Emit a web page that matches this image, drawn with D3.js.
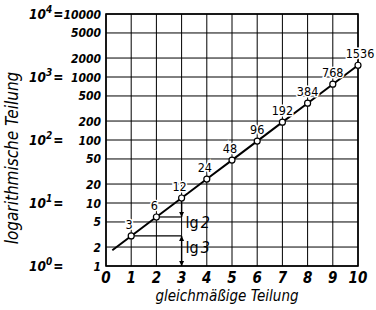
<!DOCTYPE html>
<html lang="de">
<head>
<meta charset="utf-8">
<title>logarithmische Teilung</title>
<script src="https://d3js.org/d3.v7.min.js"></script>
<style>
  body { margin: 0; background: #fff; }
  svg { display: block; }
  text { font-family: "DejaVu Sans Condensed", "DejaVu Sans", sans-serif; fill: #000; }
</style>
</head>
<body>
<script>
// gleichmäßige Teilung (x) und Werte der Punkte (y = 3, 6, 12, ...)
const pointX = [1, 2, 3, 4, 5, 6, 7, 8, 9, 10];
const pointY = [3, 6, 12, 24, 48, 96, 192, 384, 768, 1536];
// Anfang der Geraden links unten
const startX = 0.25;
const startY = 1.78;

const xTicks = [0, 1, 2, 3, 4, 5, 6, 7, 8, 9, 10];
const yTicks = [1, 2, 5, 10, 20, 50, 100, 200, 500, 1000, 2000, 5000, 10000];
const powers = [0, 1, 2, 3, 4];

const w = 376, h = 310;
const svg = d3.select("body").append("svg").attr("width", w).attr("height", h);

const x = d3.scaleLinear().domain([0, 10]).range([106, 358]);
const y = d3.scaleLog().domain([1, 10000]).range([266, 14]);

// Gitter
svg.append("g").selectAll("line").data(yTicks).join("line")
  .attr("x1", x(0)).attr("x2", x(10))
  .attr("y1", d => y(d)).attr("y2", d => y(d))
  .attr("stroke", "#000").attr("stroke-width", 1);
svg.append("g").selectAll("line").data(xTicks).join("line")
  .attr("x1", d => x(d)).attr("x2", d => x(d))
  .attr("y1", y(1)).attr("y2", y(10000))
  .attr("stroke", "#000").attr("stroke-width", 1);

// Rahmen
svg.append("rect")
  .attr("x", x(0)).attr("y", y(10000))
  .attr("width", x(10) - x(0)).attr("height", y(1) - y(10000))
  .attr("fill", "none").attr("stroke", "#000").attr("stroke-width", 1.6);

// y-Beschriftung
svg.append("g").selectAll("text").data(yTicks).join("text")
  .attr("x", x(0) - 5).attr("y", d => y(d) + 4.5)
  .attr("text-anchor", "end")
  .style("font-size", "12px").style("font-style", "italic").style("font-weight", "bold")
  .text(d => d);

// 10^n =
const pw = svg.append("g").selectAll("text").data(powers).join("text")
  .attr("x", 29).attr("y", d => y(Math.pow(10, d)) + 5)
  .style("font-size", "13.5px").style("font-style", "italic").style("font-weight", "bold");
pw.append("tspan").text("10");
pw.append("tspan").attr("dy", -6).style("font-size", "10px").text(d => d);
pw.append("tspan").attr("dy", 6).attr("dx", 1).text("=");

// x-Beschriftung
svg.append("g").selectAll("text").data(xTicks).join("text")
  .attr("x", d => x(d)).attr("y", 283)
  .attr("text-anchor", "middle")
  .style("font-size", "15px").style("font-style", "italic").style("font-weight", "bold")
  .text(d => d);

// Achsentitel
svg.append("text")
  .attr("x", 227).attr("y", 301).attr("text-anchor", "middle")
  .style("font-size", "15px").style("font-style", "italic")
  .text("gleichmäßige Teilung");
svg.append("text")
  .attr("transform", "translate(18,158) rotate(-90)").attr("text-anchor", "middle")
  .style("font-size", "17px").style("font-style", "italic")
  .text("logarithmische Teilung");

// Hilfslinien lg 2, lg 3
svg.append("line")
  .attr("x1", x(2)).attr("x2", x(3)).attr("y1", y(6)).attr("y2", y(6))
  .attr("stroke", "#000").attr("stroke-width", 1.2);
svg.append("line")
  .attr("x1", x(1)).attr("x2", x(3)).attr("y1", y(3)).attr("y2", y(3))
  .attr("stroke", "#000").attr("stroke-width", 1.2);

const defs = svg.append("defs");
defs.append("marker").attr("id", "arr")
  .attr("viewBox", "0 -5 10 10").attr("refX", 10).attr("refY", 0)
  .attr("markerWidth", 5).attr("markerHeight", 7).attr("markerUnits", "userSpaceOnUse")
  .attr("orient", "auto-start-reverse")
  .append("path").attr("d", "M0,-5L10,0L0,5Z").attr("fill", "#000");

svg.append("line")
  .attr("x1", x(3)).attr("x2", x(3)).attr("y1", y(12) + 3).attr("y2", y(6))
  .attr("stroke", "#000").attr("stroke-width", 1.4)
  .attr("marker-end", "url(#arr)");
svg.append("line")
  .attr("x1", x(3)).attr("x2", x(3)).attr("y1", y(3)).attr("y2", y(1))
  .attr("stroke", "#000").attr("stroke-width", 1.4)
  .attr("marker-start", "url(#arr)").attr("marker-end", "url(#arr)");

// Beschriftung der Strecken: [Wert für Lage, Ziffer]
const lgLabels = [[5, "2"], [2, "3"]];
const lg = svg.append("g").selectAll("text").data(lgLabels).join("text")
  .attr("x", x(3) + 4).attr("y", d => y(d[0]) + 6)
  .style("font-size", "16px");
lg.append("tspan").text("lg");
lg.append("tspan").attr("dx", 2).style("font-style", "italic").text(d => d[1]);

// Gerade
const lineData = [[startX, startY]].concat(pointX.map((d, i) => [d, pointY[i]]));
svg.append("path")
  .datum(lineData)
  .attr("d", d3.line().x(d => x(d[0])).y(d => y(d[1])))
  .attr("fill", "none").attr("stroke", "#000").attr("stroke-width", 2);

// Punkte
svg.append("g").selectAll("circle").data(pointX).join("circle")
  .attr("cx", d => x(d)).attr("cy", (d, i) => y(pointY[i]))
  .attr("r", 3).attr("fill", "#fff").attr("stroke", "#000").attr("stroke-width", 1.2);

svg.append("g").selectAll("text").data(pointX).join("text")
  .attr("x", (d, i) => x(d) - (i < 5 ? 2 : 0) + (i === 9 ? 2 : 0))
  .attr("y", (d, i) => y(pointY[i]) - 7)
  .attr("text-anchor", "middle")
  .style("font-size", "12.5px")
  .attr("stroke", "#fff").attr("stroke-width", 3).attr("paint-order", "stroke")
  .text((d, i) => pointY[i]);
</script>
</body>
</html>
